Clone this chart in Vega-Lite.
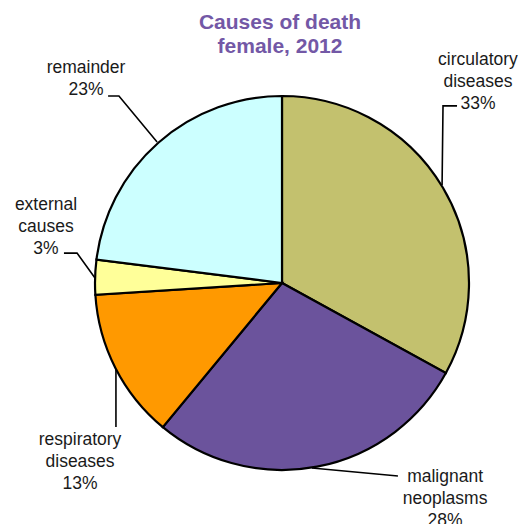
{
  "$schema": "https://vega.github.io/schema/vega-lite/v6.json",
  "width": 484,
  "height": 468,
  "autosize": {"type": "none"},
  "padding": {"left": 38, "top": 56, "right": 0, "bottom": 0},
  "background": "white",
  "title": {
    "text": ["Causes of death", "female, 2012"],
    "fontSize": 21,
    "font": "Liberation Sans",
    "fontWeight": "bold",
    "color": "#7358A6",
    "anchor": "middle",
    "offset": -6,
    "lineHeight": 24
  },
  "config": {"view": {"stroke": null}},
  "datasets": {
    "slices": [
      {"category": "circulatory diseases", "value": 33, "rank": 1, "label": "circulatory\ndiseases\n33%", "lx": 104.8, "ly": 119.3},
      {"category": "malignant neoplasms", "value": 28, "rank": 2, "label": "malignant\nneoplasms\n28%", "lx": 87.2, "ly": -103.7},
      {"category": "respiratory diseases", "value": 13, "rank": 3, "label": "respiratory\ndiseases\n13%", "lx": -108.0, "ly": -84.0},
      {"category": "external causes", "value": 3, "rank": 4, "label": "external\ncauses\n3%", "lx": -126.2, "ly": 41.7},
      {"category": "remainder", "value": 23, "rank": 5, "label": "remainder\n23%", "lx": -104.8, "ly": 115.0}
    ],
    "leaders": [
      {"category": "circulatory diseases", "seq": 1, "x": 85.6, "y": 52.4},
      {"category": "circulatory diseases", "seq": 2, "x": 86.1, "y": 94.7},
      {"category": "circulatory diseases", "seq": 3, "x": 93.6, "y": 94.7},
      {"category": "malignant neoplasms", "seq": 1, "x": 16.0, "y": -98.9},
      {"category": "malignant neoplasms", "seq": 2, "x": 62.0, "y": -103.2},
      {"category": "respiratory diseases", "seq": 1, "x": -88.8, "y": -46.0},
      {"category": "respiratory diseases", "seq": 2, "x": -88.8, "y": -77.0},
      {"category": "external causes", "seq": 1, "x": -100.0, "y": 2.7},
      {"category": "external causes", "seq": 2, "x": -109.6, "y": 16.0},
      {"category": "external causes", "seq": 3, "x": -116.6, "y": 16.0},
      {"category": "remainder", "seq": 1, "x": -66.8, "y": 75.4},
      {"category": "remainder", "seq": 2, "x": -87.2, "y": 100.0},
      {"category": "remainder", "seq": 3, "x": -93.0, "y": 100.0}
    ]
  },
  "layer": [
    {
      "data": {"name": "slices"},
      "mark": {"type": "arc", "outerRadius": 187, "stroke": "black", "strokeWidth": 2.2},
      "encoding": {
        "theta": {"field": "value", "type": "quantitative", "stack": true},
        "order": {"field": "rank", "type": "quantitative"},
        "x": {"datum": 0, "type": "quantitative", "scale": {"domain": [-130.48, 128.34], "nice": false, "zero": false}, "axis": null},
        "y": {"datum": 0, "type": "quantitative", "scale": {"domain": [-128.88, 121.39], "nice": false, "zero": false}, "axis": null},
        "color": {
          "field": "category",
          "type": "nominal",
          "scale": {
            "domain": ["circulatory diseases", "malignant neoplasms", "respiratory diseases", "external causes", "remainder"],
            "range": ["#C3C16E", "#6B539C", "#FF9900", "#FFFF99", "#CCFFFF"]
          },
          "legend": null
        }
      }
    },
    {
      "data": {"name": "leaders"},
      "mark": {"type": "line", "stroke": "black", "strokeWidth": 1.6},
      "encoding": {
        "x": {"field": "x", "type": "quantitative"},
        "y": {"field": "y", "type": "quantitative"},
        "detail": {"field": "category"},
        "order": {"field": "seq", "type": "quantitative"}
      }
    },
    {
      "data": {"name": "slices"},
      "mark": {"type": "text", "font": "Liberation Sans", "fontSize": 17.5, "lineBreak": "\n", "lineHeight": 22, "align": "center", "baseline": "middle", "color": "#1a1a1a"},
      "encoding": {
        "x": {"field": "lx", "type": "quantitative"},
        "y": {"field": "ly", "type": "quantitative"},
        "text": {"field": "label"}
      }
    }
  ]
}
